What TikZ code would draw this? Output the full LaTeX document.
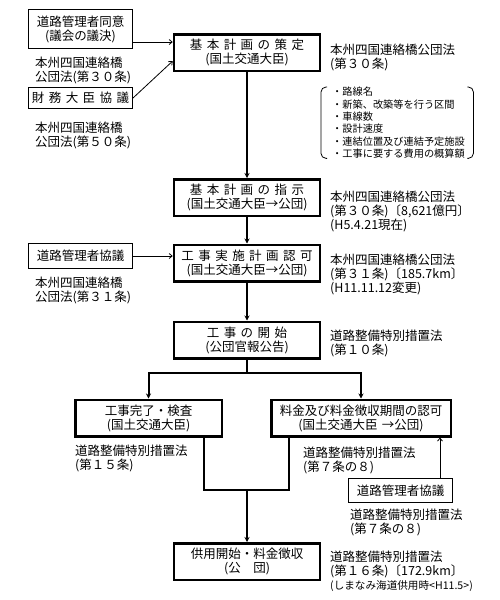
\documentclass[tikz,border=0pt]{standalone}
\usepackage{fontspec}
\setmainfont{Noto Sans CJK JP}[WordSpace=1.6]
\usetikzlibrary{arrows.meta}

\begin{document}
\begin{tikzpicture}[x=1pt, y=-1pt,
    font=\fontsize{12.5}{14}\selectfont,
    mainbox/.style={draw, rectangle, line width=2.5pt, align=center, minimum width=146pt, minimum height=36.5pt, inner sep=1pt},
    sidebox/.style={draw, rectangle, line width=1pt, align=center, minimum width=104pt, inner sep=1pt},
    note/.style={anchor=north west, align=left, inner sep=0pt},
    flow/.style={line width=2pt, -{Stealth[length=5pt, width=5pt]}},
    trunk/.style={line width=2pt},
    link/.style={line width=0.8pt, -{Straight Barb[length=3pt, width=5pt]}}]
    \useasboundingbox (0,0) rectangle (500,600);

    % main column
    \node[mainbox] (plan) at (247,52.5) {基 本 計 画 の 策 定\\(国土交通大臣)};
    \node[mainbox] (order) at (247,197.5) {基 本 計 画 の 指 示\\(国土交通大臣→公団)};
    \node[mainbox] (approval) at (247,263) {工 事 実 施 計 画 認 可\\(国土交通大臣→公団)};
    \node[mainbox] (start) at (247,340) {工 事 の 開 始\\(公団官報公告)};
    \node[mainbox, minimum width=146.5pt] (finish) at (148.5,418) {工事完了・検査\\(国土交通大臣)};
    \node[mainbox, minimum width=179.5pt] (toll) at (361,418) {料金及び料金徴収期間の認可\\(国土交通大臣 →公団)};
    \node[mainbox] (open) at (247,561.5) {供用開始・料金徴収\\(公　団)};

    % side boxes
    \node[sidebox, minimum height=39pt] (consent) at (80.5,29) {道路管理者同意\\(議会の議決)};
    \node[sidebox, minimum height=21pt] (finance) at (80.5,98) {財 務 大 臣 協 議};
    \node[sidebox, minimum height=25pt] (consultA) at (80.5,256) {道路管理者協議};
    \node[sidebox, minimum height=24pt] (consultB) at (400.5,490.5) {道路管理者協議};

    % legal notes
    \node[note] (lawA) at (35,57) {本州四国連絡橋\\公団法(第３０条)};
    \node[note] (lawB) at (35,122) {本州四国連絡橋\\公団法(第５０条)};
    \node[note] (lawC) at (35,277) {本州四国連絡橋\\公団法(第３１条)};
    \node[note] (planlaw) at (330,44) {本州四国連絡橋公団法\\(第３０条)};
    \node[note, text width=137pt, font=\fontsize{10.2}{12.3}\selectfont] (items) at (332,87)
        {・路線名\\・新築、改築等を行う区間\\・車線数\\・設計速度\\・連結位置及び連結予定施設\\・工事に要する費用の概算額};
    \node[note] (orderlaw) at (330,191) {本州四国連絡橋公団法\\(第３０条)〔8,621億円〕\\(H5.4.21現在)};
    \node[note] (approvallaw) at (330,254) {本州四国連絡橋公団法\\(第３１条)〔185.7km〕\\(H11.11.12変更)};
    \node[note] (startlaw) at (330,330) {道路整備特別措置法\\(第１０条)};
    \node[note] (finishlaw) at (75,445) {道路整備特別措置法\\(第１５条)};
    \node[note] (tolllaw) at (303,447) {道路整備特別措置法\\(第７条の８)};
    \node[note] (consultlaw) at (350,509) {道路整備特別措置法\\(第７条の８)};
    \node[note] (openlaw) at (330,551) {道路整備特別措置法\\(第１６条)〔172.9km〕\\{\fontsize{10.6}{12}\selectfont (しまなみ海道供用時<H11.5>)}};

    % bracket round the items
    \draw[line width=0.8pt, rounded corners=5pt] ([xshift=-5pt]items.north west) -- ([xshift=-11pt]items.north west)
        -- ([xshift=-11pt]items.south west) -- ([xshift=-5pt]items.south west);
    \draw[line width=0.8pt, rounded corners=5pt] ([xshift=-2pt]items.north east) -- ([xshift=4pt]items.north east)
        -- ([xshift=4pt]items.south east) -- ([xshift=-2pt]items.south east);

    % flow
    \draw[flow] (plan) -- (order);
    \draw[flow] (order) -- (approval);
    \draw[flow] (approval) -- (start);
    \coordinate (fork) at (247,373);
    \draw[trunk] (start) -- (fork);
    \draw[flow] (fork) -| (finish);
    \draw[flow] (fork) -| (toll);
    \coordinate (join) at (247,490);
    \draw[trunk] ([xshift=55pt]finish.south) |- (join);
    \draw[trunk] ([xshift=-72pt]toll.south) |- (join);
    \draw[flow] (join) -- (open);

    % side links
    \draw[link] ([yshift=-13pt]consent.east) -- ([yshift=-13pt]consent.east -| plan.west);
    \draw[link] (finance.east) -- ([yshift=-8.5pt]plan.west);
    \draw[link] (consultA.east) -- (consultA.east -| approval.west);
    \draw[link] ([xshift=39.5pt]consultB.north) -- ([xshift=39.5pt]consultB.north |- toll.south);
\end{tikzpicture}
\end{document}
